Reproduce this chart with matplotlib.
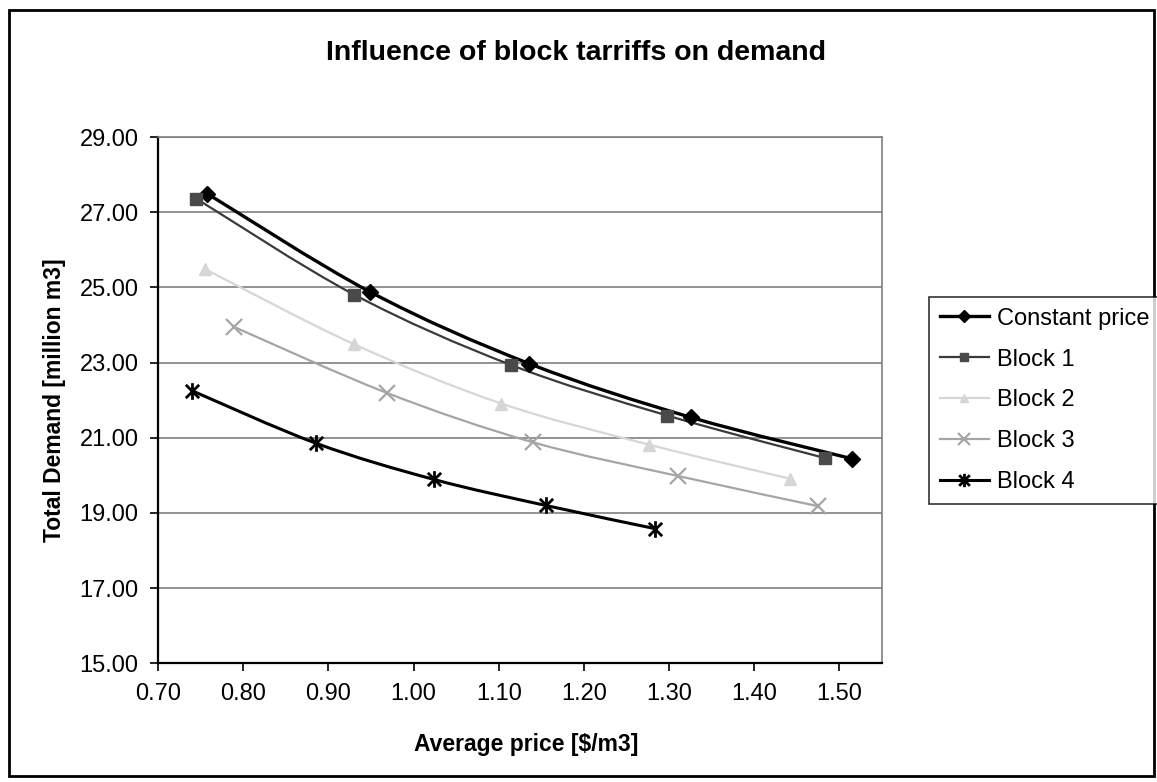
import numpy as np
import matplotlib
matplotlib.use("Agg")
import matplotlib.pyplot as plt
from matplotlib.path import Path
from matplotlib.patches import PathPatch, Rectangle
from matplotlib.lines import Line2D

plt.rcParams['font.family'] = ['Liberation Sans', 'DejaVu Sans']

# ---- data ----
const_x = [0.758, 0.949, 1.136, 1.326, 1.515]
const_y = [27.49, 24.88, 22.97, 21.54, 20.44]
b1_x = [0.745, 0.930, 1.114, 1.298, 1.483]
b1_y = [27.36, 24.81, 22.94, 21.59, 20.46]
b2_x = [0.755, 0.930, 1.103, 1.276, 1.442]
b2_y = [25.49, 23.49, 21.91, 20.82, 19.91]
b3_x = [0.789, 0.969, 1.140, 1.311, 1.475]
b3_y = [23.95, 22.19, 20.88, 19.98, 19.18]
b4_x = [0.740, 0.886, 1.024, 1.155, 1.284]
b4_y = [22.25, 20.85, 19.89, 19.20, 18.58]
labels = ["Constant price", "Block 1", "Block 2", "Block 3", "Block 4"]
xticks = [0.70, 0.80, 0.90, 1.00, 1.10, 1.20, 1.30, 1.40, 1.50]
yticks = [15, 17, 19, 21, 23, 25, 27, 29]

W, H = 1157, 782
fig = plt.figure(figsize=(W / 100, H / 100), dpi=100)
ax = fig.add_axes([158 / W, 1 - 663.3 / H, (882 - 158) / W, (663.3 - 137) / H])


def smooth_path(xs, ys):
    pts = np.column_stack([xs, ys])
    n = len(pts)
    verts = [pts[0]]
    codes = [Path.MOVETO]
    for i in range(n - 1):
        p0 = pts[i - 1] if i > 0 else pts[i]
        p1 = pts[i]
        p2 = pts[i + 1]
        p3 = pts[i + 2] if i + 2 < n else pts[i + 1]
        c1 = p1 + (p2 - p0) / 6.0
        c2 = p2 - (p3 - p1) / 6.0
        verts += [c1, c2, p2]
        codes += [Path.CURVE4] * 3
    return Path(verts, codes)


# Excel-style star marker: an "x" with a vertical bar
star = Path([(0, -1), (0, 1), (-0.8, -0.8), (0.8, 0.8), (-0.8, 0.8), (0.8, -0.8)],
            [Path.MOVETO, Path.LINETO, Path.MOVETO, Path.LINETO, Path.MOVETO, Path.LINETO])

series = [
    (const_x, const_y, dict(color='black', lw=2.4, marker='D', ms=8, mfc='black', mec='black')),
    (b1_x, b1_y, dict(color='#3a3a3a', lw=1.6, marker='s', ms=8, mfc='#4a4a4a', mec='#4a4a4a')),
    (b2_x, b2_y, dict(color='#d6d6d6', lw=1.6, marker='^', ms=8, mfc='#d6d6d6', mec='#d6d6d6')),
    (b3_x, b3_y, dict(color='#a5a5a5', lw=1.6, marker='x', ms=11, mfc='#a5a5a5', mec='#a5a5a5', mew=1.6)),
    (b4_x, b4_y, dict(color='black', lw=2.2, marker=star, ms=12, mfc='black', mec='black', mew=2.0)),
]

handles = []
for (xs, ys, st), lab in zip(series, labels):
    patch = PathPatch(smooth_path(xs, ys), facecolor='none', edgecolor=st['color'],
                      lw=st['lw'], zorder=3, capstyle='round', joinstyle='round')
    ax.add_patch(patch)
    ax.plot(xs, ys, linestyle='none', marker=st['marker'], ms=st['ms'], mfc=st['mfc'],
            mec=st['mec'], mew=st.get('mew', 1.0), zorder=4, clip_on=False)
    handles.append(Line2D([], [], color=st['color'], lw=st['lw'], marker=st['marker'],
                          ms=st['ms'] * 0.8, mfc=st['mfc'], mec=st['mec'], mew=st.get('mew', 1.0)))

ax.set_xlim(0.70, 1.55)
ax.set_ylim(15, 29)
ax.set_xticks(xticks)
ax.set_xticklabels([f"{v:.2f}" for v in xticks], fontsize=17)
ax.set_yticks(yticks)
ax.set_yticklabels([f"{v:.2f}" for v in yticks], fontsize=17)
ax.tick_params(direction='out', length=6, width=1.2, color='black', pad=8)
ax.yaxis.grid(True, color='#808080', lw=1.2)
ax.set_axisbelow(True)
for s in ['left', 'bottom']:
    ax.spines[s].set_color('black')
    ax.spines[s].set_linewidth(1.6)
for s in ['top', 'right']:
    ax.spines[s].set_color('#808080')
    ax.spines[s].set_linewidth(1.2)

fig.text(526 / W, 1 - 745 / H, "Average price [$/m3]", ha='center', va='center',
         fontsize=16.5, fontweight='bold')
fig.text(54 / W, 1 - 400 / H, "Total Demand [million m3]", ha='center', va='center',
         rotation=90, fontsize=16.5, fontweight='bold')

fig.text(0.5 * (327 + 825) / W, 1 - 53 / H, "Influence of block tarriffs on demand",
         ha='center', va='center', fontsize=20.5, fontweight='bold')

leg = fig.legend(handles, labels, loc='upper left', bbox_to_anchor=(929 / W, 1 - 297 / H),
                 bbox_transform=fig.transFigure, fontsize=17, frameon=True, fancybox=False,
                 edgecolor='black', borderaxespad=0, handlelength=2.1, handletextpad=0.35,
                 labelspacing=0.8, borderpad=0.45)
leg.get_frame().set_linewidth(1.2)

fig.patches.append(Rectangle((9 / W, 1 - 776 / H), (1154 - 9) / W, (776 - 10) / H,
                             transform=fig.transFigure, fill=False, edgecolor='black', lw=2))

fig.savefig("out.png", dpi=100)
